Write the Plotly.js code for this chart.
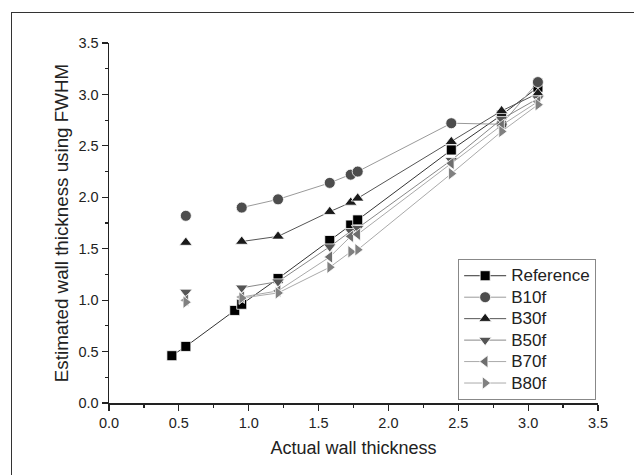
<!DOCTYPE html>
<html>
<head>
<meta charset="utf-8">
<script src="https://cdn.plot.ly/plotly-3.0.1.min.js"></script>
<style>
  html, body { margin: 0; padding: 0; background: #fff; overflow: hidden; }
  #chart { width: 634px; height: 475px; position: absolute; left: 0; top: 0; }
  #frame { position: absolute; left: 11px; top: 12px; width: 700px; height: 600px;
           border-left: 1px solid #333; border-top: 1px solid #333; pointer-events: none; z-index: 5; }
</style>
</head>
<body>
<div id="chart"></div>
<div id="frame"></div>
<script>
// Actual wall thickness (x) values
const refX = [0.45, 0.55, 0.90, 0.95, 1.21, 1.58, 1.73, 1.78, 2.45, 2.81, 3.07];
const refY = [0.46, 0.55, 0.90, 0.96, 1.21, 1.58, 1.73, 1.78, 2.46, 2.80, 3.07];

const kernelX = [0.55, 0.90, 0.95, 1.21, 1.58, 1.73, 1.78, 2.45, 2.81, 3.07];
const b10f = [1.82, null, 1.90, 1.98, 2.14, 2.22, 2.25, 2.72, 2.71, 3.12];
const b30f = [1.56, null, 1.57, 1.62, 1.86, 1.95, 1.99, 2.54, 2.84, 3.01];
const b50f = [1.08, null, 1.12, 1.18, 1.52, 1.67, 1.70, 2.36, 2.76, 2.96];
const b70f = [1.00, null, 1.03, 1.09, 1.42, 1.62, 1.64, 2.33, 2.70, 2.93];
const b80f = [0.98, null, 1.02, 1.07, 1.32, 1.47, 1.49, 2.23, 2.64, 2.90];

const seriesNames = ["Reference", "B10f", "B30f", "B50f", "B70f", "B80f"];
const xTickVals = [0, 0.5, 1, 1.5, 2, 2.5, 3, 3.5];
const xTickText = ["0.0", "0.5", "1.0", "1.5", "2.0", "2.5", "3.0", "3.5"];
const yTickVals = [0, 0.5, 1, 1.5, 2, 2.5, 3, 3.5];
const yTickText = ["0.0", "0.5", "1.0", "1.5", "2.0", "2.5", "3.0", "3.5"];

const FONT = "'Liberation Sans', Arial, sans-serif";

function mk(name, x, y, symbol, mcolor, lcolor, size) {
  return {
    type: 'scatter', mode: 'lines+markers',
    name: '<span style="font-size:17px">' + name + '</span>',
    x: x, y: y,
    connectgaps: false,
    line: { color: lcolor, width: 1 },
    marker: { symbol: symbol, color: mcolor, size: size, line: { color: '#ffffff', width: 0.8 } }
  };
}

const traces = [
  mk(seriesNames[0], refX, refY, 'square', '#000000', '#333333', 10),
  mk(seriesNames[1], kernelX, b10f, 'circle', '#4d4d4d', '#9a9a9a', 11),
  mk(seriesNames[2], kernelX, b30f, 'triangle-up', '#1a1a1a', '#555555', 11),
  mk(seriesNames[3], kernelX, b50f, 'triangle-down', '#555555', '#888888', 11),
  mk(seriesNames[4], kernelX, b70f, 'triangle-left', '#6e6e6e', '#aaaaaa', 11),
  mk(seriesNames[5], kernelX, b80f, 'triangle-right', '#808080', '#aaaaaa', 11)
];

const layout = {
  width: 634, height: 475,
  margin: { l: 109, r: 36, t: 43, b: 72 },
  paper_bgcolor: '#ffffff', plot_bgcolor: '#ffffff',
  font: { family: FONT, color: '#222', size: 14.5 },
  showlegend: true,
  xaxis: {
    range: [0, 3.5], tickvals: xTickVals, ticktext: xTickText,
    showgrid: false, zeroline: false, showline: true, linecolor: '#222', linewidth: 1.5,
    ticks: 'outside', ticklen: 6, tickwidth: 1.2, tickcolor: '#222',
    minor: { dtick: 0.25, tick0: 0, ticks: 'outside', ticklen: 3, tickwidth: 1.2, tickcolor: '#222', showgrid: false },
    tickfont: { family: FONT, size: 14.5, color: '#222' },
    title: { text: 'Actual wall thickness', font: { family: FONT, size: 18, color: '#222' }, standoff: 11 }
  },
  yaxis: {
    range: [0, 3.5], tickvals: yTickVals, ticktext: yTickText,
    showgrid: false, zeroline: false, showline: true, linecolor: '#222', linewidth: 1.5,
    ticks: 'outside', ticklen: 6, tickwidth: 1.2, tickcolor: '#222',
    minor: { dtick: 0.25, tick0: 0, ticks: 'outside', ticklen: 3, tickwidth: 1.2, tickcolor: '#222', showgrid: false },
    tickfont: { family: FONT, size: 14.5, color: '#222' },
    title: { text: 'Estimated wall thickness using FWHM', font: { family: FONT, size: 18.8, color: '#222' }, standoff: 5 }
  },
  legend: {
    x: 0.714, y: 0.4, xanchor: 'left', yanchor: 'top',
    bgcolor: '#ffffff', bordercolor: '#888', borderwidth: 1,
    font: { family: FONT, size: 14.2, color: '#222' },
    itemwidth: 42,
    tracegroupgap: 0
  }
};

Plotly.newPlot('chart', traces, layout, { displayModeBar: false, staticPlot: true });
</script>
</body>
</html>
